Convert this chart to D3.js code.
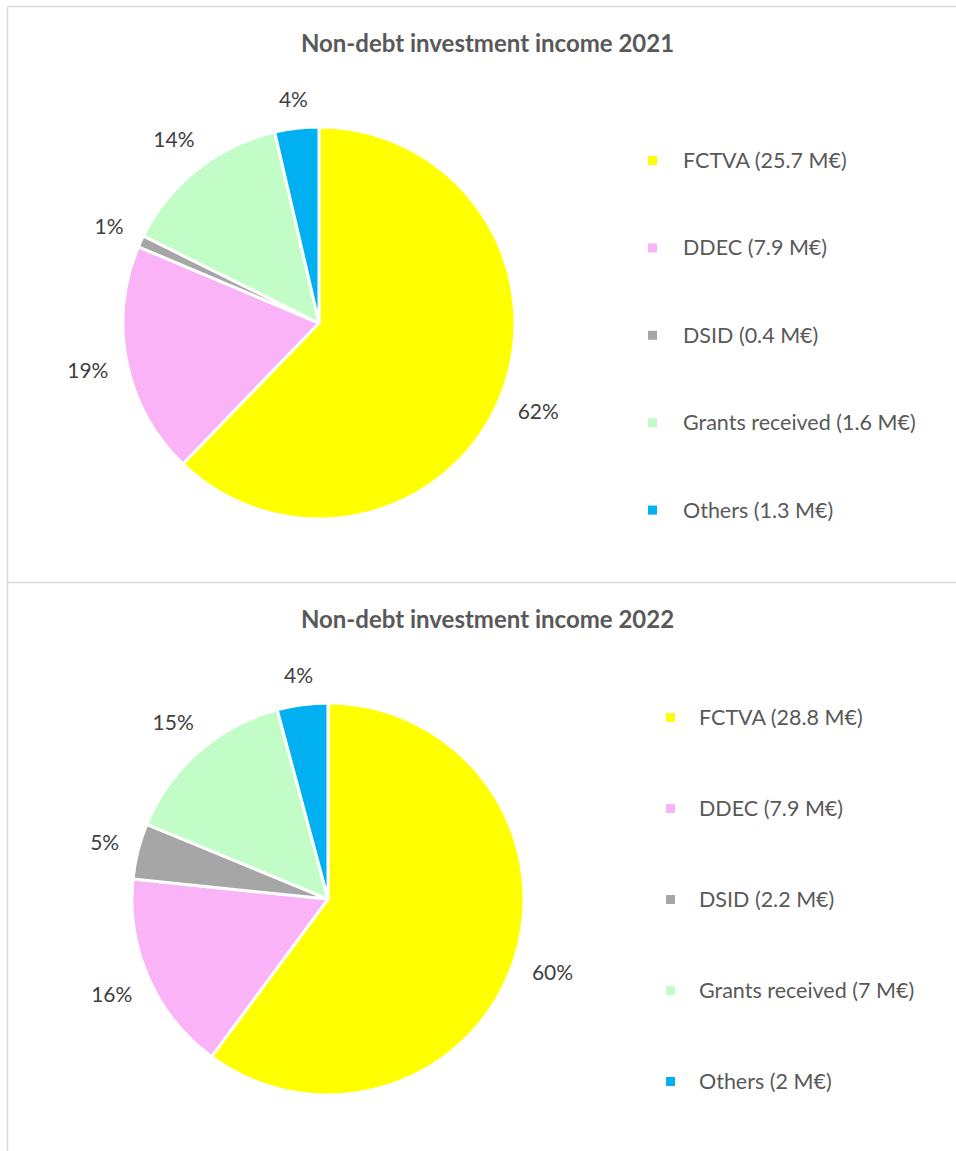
<!DOCTYPE html>
<meta charset="utf-8">
<style>
    body { margin: 0; background: #fff; }
    text { font-family: Lato, "Open Sans", sans-serif; }
</style>

<!-- Load d3.js -->
<script src="https://d3js.org/d3.v7.min.js"></script>

<svg id="my_dataviz" width="956" height="1151"></svg>
<script>

// categories and colours (same for both years)
var categories = ["FCTVA", "DDEC", "DSID", "Grants received", "Others"];
var colors = ["#FFFF00", "#FAB3F7", "#A6A6A6", "#C2FDC8", "#00B0F0"];

// slice values (M€)
var values2021 = [25.7, 7.9, 0.4, 5.8, 1.5];
var values2022 = [28.8, 7.9, 2.2, 7, 2];

// legend labels as printed
var legend2021 = ["FCTVA (25.7 M€)", "DDEC (7.9 M€)", "DSID (0.4 M€)", "Grants received (1.6 M€)", "Others (1.3 M€)"];
var legend2022 = ["FCTVA (28.8 M€)", "DDEC (7.9 M€)", "DSID (2.2 M€)", "Grants received (7 M€)", "Others (2 M€)"];

var titles = ["Non-debt investment income 2021", "Non-debt investment income 2022"];

var svg = d3.select("svg");

// panel frames
var frame = svg.append("g")
    .attr("fill", "none")
    .attr("stroke", "#D9D9D9")
    .attr("stroke-width", 1.5);
frame.append("line").attr("x1", 7.5).attr("x2", 956).attr("y1", 6.5).attr("y2", 6.5);
frame.append("line").attr("x1", 7.5).attr("x2", 956).attr("y1", 582.5).attr("y2", 582.5);
frame.append("line").attr("x1", 7.5).attr("x2", 7.5).attr("y1", 6.5).attr("y2", 1151);

// layout of each chart
var charts = [
    { title: titles[0], values: values2021, legend: legend2021,
      titleY: 52, cx: 319, cy: 323,
      legX: 652.5, legTextX: 683, legY: 160.5, legStep: 87.4 },
    { title: titles[1], values: values2022, legend: legend2022,
      titleY: 628, cx: 328, cy: 899,
      legX: 670.5, legTextX: 699, legY: 717.5, legStep: 91 }
];

var radius = 196;
var labelGap = 214;   // distance from centre to the near edge of a label box

var pie = d3.pie().sort(null).value(function(d) { return d; });
var arc = d3.arc().innerRadius(0).outerRadius(radius);

charts.forEach(function(c) {

    // title
    svg.append("text")
        .attr("x", 487.5)
        .attr("y", c.titleY)
        .attr("text-anchor", "middle")
        .attr("font-size", "24px")
        .attr("font-weight", "bold")
        .attr("fill", "#595959")
        .text(c.title);

    var total = d3.sum(c.values);
    var arcs = pie(c.values);

    var g = svg.append("g")
        .attr("transform", "translate(" + c.cx + "," + c.cy + ")");

    // slices
    g.selectAll("path")
        .data(arcs)
        .enter().append("path")
            .attr("d", arc)
            .attr("fill", function(d, i) { return colors[i]; })
            .attr("stroke", "#fff")
            .attr("stroke-width", 3)
            .attr("stroke-linejoin", "round");

    // percentage labels outside the pie (box pushed out so its edge sits at labelGap)
    g.selectAll(".pct")
        .data(arcs)
        .enter().append("text")
            .attr("class", "pct")
            .attr("text-anchor", "middle")
            .attr("dy", "0.35em")
            .attr("font-size", "21px")
            .attr("fill", "#404040")
            .text(function(d) { return Math.round(d.value / total * 100) + "%"; })
            .attr("transform", function(d) {
                var a = (d.startAngle + d.endAngle) / 2;
                var ux = Math.sin(a), uy = -Math.cos(a);
                var w = this.getComputedTextLength(), h = 18;
                var r = labelGap + (w / 2) * Math.abs(ux) + (h / 2) * Math.abs(uy);
                return "translate(" + (ux * r) + "," + (uy * r) + ")";
            });

    // legend
    var leg = svg.append("g");
    var rows = leg.selectAll("g")
        .data(c.legend)
        .enter().append("g")
            .attr("transform", function(d, i) { return "translate(0," + (c.legY + i * c.legStep) + ")"; });
    rows.append("rect")
        .attr("x", c.legX - 4.5)
        .attr("y", -4.5)
        .attr("width", 9)
        .attr("height", 9)
        .attr("fill", function(d, i) { return colors[i]; });
    rows.append("text")
        .attr("x", c.legTextX)
        .attr("dy", "0.35em")
        .attr("font-size", "21.5px")
        .attr("fill", "#595959")
        .text(function(d) { return d; });
});

</script>
